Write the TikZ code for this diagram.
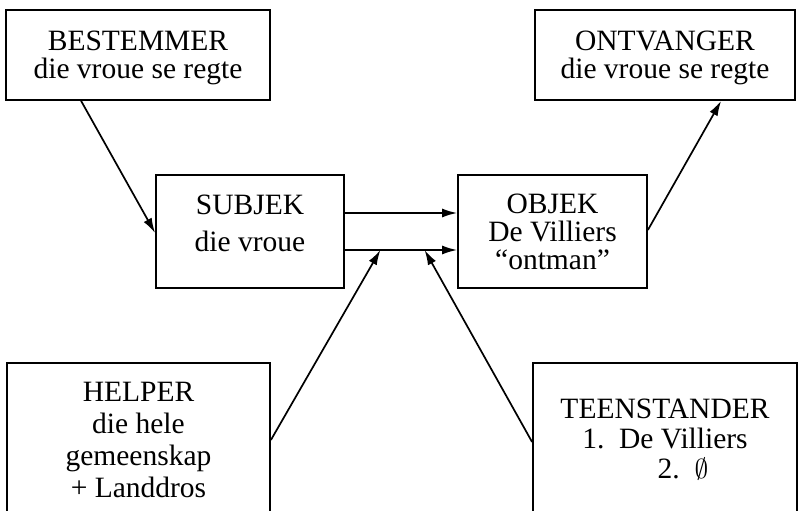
\documentclass[tikz,border=0pt]{standalone}
\usepackage{fontspec}
\usepackage{graphicx}
\setmainfont{Liberation Serif}
\usetikzlibrary{arrows.meta,calc}
\newcommand{\padtext}[3]{\rule{0pt}{#1pt}#3\rule[-#2pt]{0pt}{#2pt}}
\begin{document}
\begin{tikzpicture}[x=1pt,y=-1pt,
  box/.style={draw, line width=1.8pt, inner sep=0pt, align=center,
              font=\fontsize{29.5}{28}\selectfont},
  arr/.style={line width=1.7pt, -{Latex[length=15pt,width=9pt]}}]
\useasboundingbox (0,0) rectangle (798,511);
\clip (0,0) rectangle (798,511);
\node[box, minimum width=264pt] (bes) at (138,55)
  {\padtext{40}{22}{BESTEMMER\\die vroue se regte}};
\node[box, minimum width=260pt] (ont) at (665,55)
  {\padtext{40}{22}{ONTVANGER\\die vroue se regte}};
\node[box, minimum width=188pt, font=\fontsize{29.5}{37}\selectfont] (sub) at (250,231.5)
  {\padtext{39}{37}{SUBJEK\\die vroue}};
\node[box, minimum width=189pt, font=\fontsize{29.5}{28}\selectfont] (obj) at (552.5,231.5)
  {\padtext{38}{19}{OBJEK\\De Villiers\\``ontman''}};
\node[box, minimum width=263pt, font=\fontsize{29.5}{32}\selectfont] (hel) at (138.5,446.5)
  {\padtext{38}{33}{HELPER\\die hele\\gemeenskap\\+ Landdros}};
\node[box, minimum width=264pt, font=\fontsize{29.5}{30}\selectfont] (tee) at (665,446.5)
  {\padtext{55}{52}{TEENSTANDER\\1.\ \ De Villiers\\\hspace*{36pt}2.\ \ \scalebox{1.1}{$\emptyset$}}};
% connectors
\coordinate (lo1) at ([yshift=-18.5pt]sub.east);
\coordinate (lo2) at ([yshift=-18.5pt]obj.west);
\coordinate (hp) at ($(lo1)!0.316!(lo2)$);
\coordinate (tp) at ($(lo1)!0.71!(lo2)$);
\draw[arr] ([xshift=76pt]bes.south west) -- ([yshift=-1.5pt]sub.west);
\draw[arr] ([yshift=18.5pt]sub.east) -- ([yshift=18.5pt]obj.west);
\draw[arr] (lo1) -- (lo2);
\draw[arr] ([yshift=1.5pt]obj.east) -- ([xshift=187pt]ont.south west);
\draw[arr] ([yshift=6.5pt]hel.east) -- (hp);
\draw[arr] ([yshift=4.5pt]tee.west) -- (tp);
\end{tikzpicture}
\end{document}
